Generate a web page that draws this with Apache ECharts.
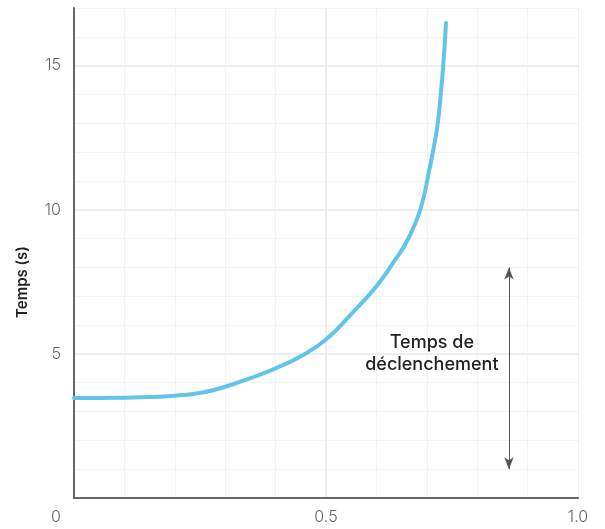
<!DOCTYPE html>
<html>
<head>
<meta charset="utf-8">
<script src="https://cdn.jsdelivr.net/npm/echarts@6/dist/echarts.min.js"></script>
<style>
html,body{margin:0;padding:0;background:#fff;}
#chart{width:605px;height:529px;}
</style>
</head>
<body>
<div id="chart"></div>
<script>
// Data
const xValues = [0, 0.05, 0.10, 0.15, 0.20, 0.25, 0.30, 0.35, 0.40, 0.45, 0.50, 0.55, 0.60, 0.637, 0.662, 0.687, 0.705, 0.72, 0.726, 0.733, 0.738];
const tripTimes = [3.47, 3.47, 3.48, 3.50, 3.55, 3.64, 3.86, 4.16, 4.50, 4.92, 5.50, 6.38, 7.35, 8.26, 8.96, 10.0, 11.39, 12.78, 13.70, 15.09, 16.48];
const arrowX = 0.863;
const arrowRange = [1, 8];
const annotationPos = [0.71, 5.0];
const annotationText = 'Temps de\ndéclenchement';
const yAxisName = 'Temps (s)';
const xTickLabels = {0: '0', 0.5: '0.5', 1: '1.0'};
const yTickLabels = [5, 10, 15];

const chart = echarts.init(document.getElementById('chart'), null, {renderer: 'canvas'});
const font = 'Inter, "Open Sans", sans-serif';
const minorColor = '#f3f3f3';
const majorColor = '#eeeeee';

function xLabel(v) {
  for (const k in xTickLabels) {
    if (Math.abs(v - Number(k)) < 1e-6) {
      return Number(k) === 0 ? '{o|' + xTickLabels[k] + '}' : xTickLabels[k];
    }
  }
  return '';
}

const option = {
  animation: false,
  grid: {left: 74, right: 27, top: 8, bottom: 31, containLabel: false},
  xAxis: [{
    type: 'value', min: 0, max: 1, interval: 0.1,
    axisLine: {show: true, lineStyle: {color: '#666', width: 2}},
    axisTick: {show: false},
    axisLabel: {
      formatter: xLabel, color: '#666', fontSize: 16, fontWeight: 300, fontFamily: font, margin: 11,
      showMinLabel: true, showMaxLabel: true,
      rich: {o: {color: '#666', fontSize: 16, fontWeight: 300, fontFamily: font, padding: [0, 36, 0, 0]}}
    },
    splitLine: {show: true, lineStyle: {color: [majorColor, minorColor, minorColor, minorColor, minorColor], width: 1}}
  }, {
    type: 'value', min: 0, max: 1, interval: 0.5, position: 'bottom',
    axisLine: {show: false}, axisTick: {show: false}, axisLabel: {show: false},
    splitLine: {show: true, lineStyle: {color: [majorColor, majorColor, 'rgba(0,0,0,0)'], width: 2}}
  }],
  yAxis: [{
    type: 'value', min: 0, max: 17, interval: 1,
    name: yAxisName, nameLocation: 'middle', nameGap: 44, nameRotate: 90,
    nameTextStyle: {color: '#222', fontSize: 15, fontWeight: 600, fontFamily: font, padding: [0, 58, 0, 0]},
    axisLine: {show: true, lineStyle: {color: '#666', width: 2}},
    axisTick: {show: false},
    axisLabel: {
      formatter: v => yTickLabels.includes(v) ? String(v) : '',
      color: '#666', fontSize: 16, fontWeight: 300, fontFamily: font, margin: 13
    },
    splitLine: {show: true, lineStyle: {color: minorColor, width: 1}}
  }, {
    type: 'value', min: 0, max: 17, interval: 5,
    axisLine: {show: false}, axisTick: {show: false}, axisLabel: {show: false},
    splitLine: {show: true, lineStyle: {color: [majorColor, majorColor, majorColor, majorColor, 'rgba(0,0,0,0)'], width: 2}}
  }],
  series: [{
    type: 'line',
    xAxisIndex: 0, yAxisIndex: 0,
    data: xValues.map((x, i) => [x, tripTimes[i]]),
    smooth: 0.5,
    showSymbol: false,
    symbol: 'none',
    lineStyle: {color: '#62c4ea', width: 4, cap: 'round', join: 'round'},
    markLine: {
      silent: true,
      symbol: ['arrow', 'arrow'],
      symbolSize: [7, 12],
      lineStyle: {color: '#555', width: 1, type: 'solid'},
      label: {show: false},
      data: [[{coord: [arrowX, arrowRange[0]]}, {coord: [arrowX, arrowRange[1]]}]]
    },
    markPoint: {
      silent: true,
      symbol: 'circle', symbolSize: 0,
      label: {
        show: true, position: 'inside', formatter: annotationText,
        color: '#222', fontSize: 18, fontWeight: 500, fontFamily: font, lineHeight: 22, align: 'center'
      },
      data: [{coord: annotationPos}]
    }
  }]
};
chart.setOption(option);
</script>
</body>
</html>
